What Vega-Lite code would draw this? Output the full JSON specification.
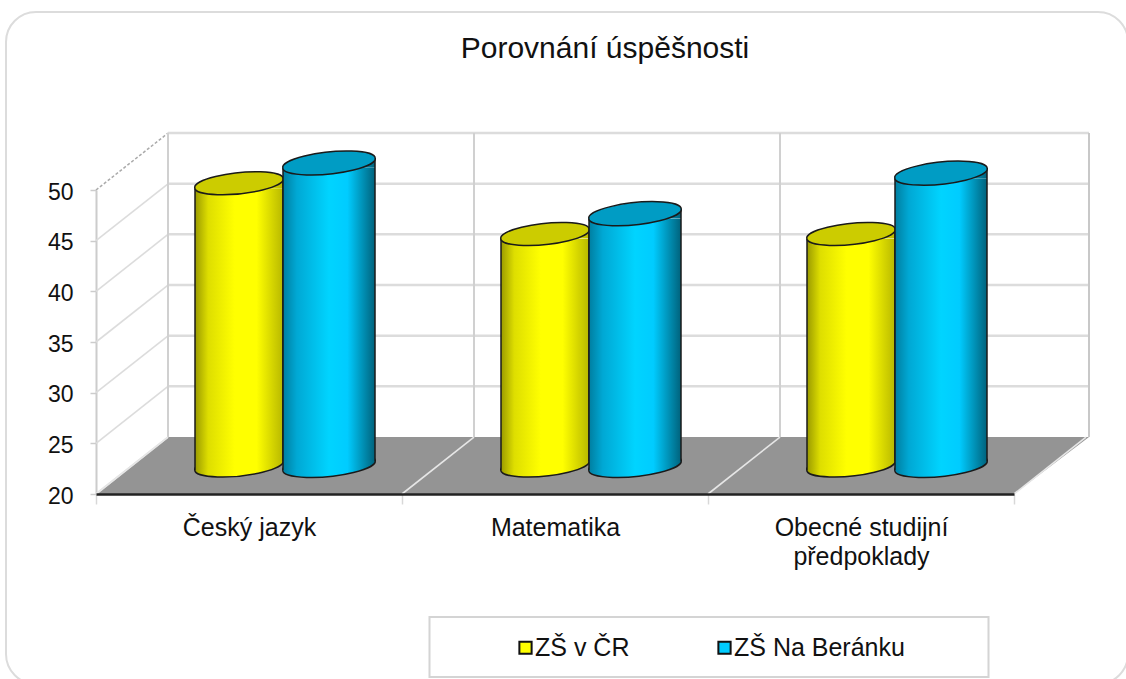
{
"$schema":"https://vega.github.io/schema/vega-lite/v6.json",
"autosize":{"type":"none"},
"width":918,"height":304,
"padding":{"left":96,"top":190,"right":112,"bottom":185},
"background":"#ffffff",
"title":{"text":"Porovnání úspěšnosti","fontSize":30,"font":"Liberation Sans","fontWeight":"normal","anchor":"middle","dx":50,"offset":-56,"color":"#111111"},
"config":{"view":{"stroke":null},"font":"Liberation Sans"},
"datasets":{
"scores":[
{"subject":"Český jazyk","school":"ZŠ v ČR","score":48},
{"subject":"Český jazyk","school":"ZŠ Na Beránku","score":50},
{"subject":"Matematika","school":"ZŠ v ČR","score":43},
{"subject":"Matematika","school":"ZŠ Na Beránku","score":45},
{"subject":"Obecné studijní předpoklady","school":"ZŠ v ČR","score":43},
{"subject":"Obecné studijní předpoklady","school":"ZŠ Na Beránku","score":49}
],
"ticks":[{"value":20},{"value":25},{"value":30},{"value":35},{"value":40},{"value":45},{"value":50}],
"subjects":[{"subject":"Český jazyk"},{"subject":"Matematika"},{"subject":"Obecné studijní předpoklady"}]
},
"layer":[
{"data":{"values":[{"subject":"Matematika","value":35}]},
 "mark":{"type":"point","filled":false,"opacity":1,"stroke":"#dcdcdc","strokeWidth":2,"xOffset":12,"yOffset":6,"size":1258884,"shape":"M -0.9465 -0.599 L 0.9465 -0.599 A 0.0535 0.0535 0 0 1 1 -0.5455 L 1 0.5455 A 0.0535 0.0535 0 0 1 0.9465 0.599 L -0.9465 0.599 A 0.0535 0.0535 0 0 1 -1 0.5455 L -1 -0.5455 A 0.0535 0.0535 0 0 1 -0.9465 -0.599 Z"},
 "encoding":{"x":{"field":"subject","type":"nominal","title":null},"y":{"field":"value","type":"quantitative","title":null}}},
{"data":{"values":[{"subject":"Matematika","value":20}]},
 "mark":{"type":"point","filled":false,"opacity":1,"stroke":"#d4d4d4","strokeWidth":2,"xOffset":154,"yOffset":153,"size":312481,"shape":"M -1 -0.107 L 1 -0.107 L 1 0.107 L -1 0.107 Z"},
 "encoding":{"x":{"field":"subject","type":"nominal","title":null},"y":{"field":"value","type":"quantitative","title":null}}},
{"data":{"name":"ticks"},"transform":[{"filter":"datum.value > 20"}],
 "mark":{"type":"point","filled":false,"opacity":1,"stroke":"#dcdcdc","strokeWidth":2.5,"xOffset":72,"yOffset":-57,"size":3392964,"shape":"M 0 0 L 1 0"},
 "encoding":{"x":{"datum":"Český jazyk","bandPosition":0},"y":{"field":"value","type":"quantitative","title":null}}},
{"data":{"values":[{"subject":"Matematika","value":20}]},
 "mark":{"type":"point","filled":true,"opacity":1,"fill":"#949494","stroke":null,"xOffset":37.5,"yOffset":-28.5,"size":986049,"shape":"M -1 0.0574 L 0.849 0.0574 L 1 -0.0574 L -0.855 -0.0574 Z"},
 "encoding":{"x":{"field":"subject","type":"nominal","title":null},"y":{"field":"value","type":"quantitative","title":null}}},
{"data":{"name":"ticks"},"transform":[{"filter":"datum.value < 50"}],
 "mark":{"type":"point","filled":false,"opacity":1,"stroke":"#dcdcdc","strokeWidth":1.6,"size":20736,"shape":"M 0 0 L 1 -0.79"},
 "encoding":{"x":{"datum":"Český jazyk","bandPosition":0},"y":{"field":"value","type":"quantitative","title":null}}},
{"data":{"name":"ticks"},"transform":[{"filter":"datum.value == 50"}],
 "mark":{"type":"point","filled":false,"opacity":1,"stroke":"#aaaaaa","strokeWidth":1.5,"strokeDash":[3,2],"size":20736,"shape":"M 0 0 L 1 -0.79"},
 "encoding":{"x":{"datum":"Český jazyk","bandPosition":0},"y":{"field":"value","type":"quantitative","title":null}}},
{"data":{"name":"subjects"},
 "mark":{"type":"rule","stroke":"#d0d0d0","strokeWidth":2,"xOffset":72,"yOffset":-57,"y2Offset":-57},
 "encoding":{"x":{"field":"subject","type":"nominal","bandPosition":0,"title":null},"y":{"datum":20},"y2":{"datum":50}}},
{"data":{"values":[{"subject":"Obecné studijní předpoklady"}]},
 "mark":{"type":"rule","stroke":"#c8c8c8","strokeWidth":2,"xOffset":75,"yOffset":-57,"y2Offset":-57},
 "encoding":{"x":{"field":"subject","type":"nominal","bandPosition":1,"title":null},"y":{"datum":20},"y2":{"datum":50}}},
{"data":{"name":"subjects"},
 "mark":{"type":"point","filled":false,"opacity":1,"stroke":"#e6e6e6","strokeWidth":1.6,"size":20736,"shape":"M 0 0 L 1 -0.79"},
 "encoding":{"x":{"field":"subject","type":"nominal","bandPosition":0,"title":null},"y":{"datum":20}}},
{"data":{"values":[{"subject":"Obecné studijní předpoklady"}]},
 "mark":{"type":"point","filled":false,"opacity":1,"stroke":"#e6e6e6","strokeWidth":1.6,"size":20736,"shape":"M 0 0 L 1 -0.79"},
 "encoding":{"x":{"field":"subject","type":"nominal","bandPosition":1,"title":null},"y":{"datum":20}}},
{"data":{"name":"scores"},
 "encoding":{
  "x":{"field":"subject","type":"nominal","title":null,"sort":null,
   "scale":{"type":"band","domain":["Český jazyk","Matematika","Obecné studijní předpoklady"],"paddingInner":0,"paddingOuter":0},
   "axis":{"title":null,"zindex":1,"labelAngle":0,"labelAlign":"center","labelFont":"Liberation Sans","labelFontSize":25,"labelColor":"#111111","labelPadding":11,"labelLineHeight":29,"labelLimit":0,"labelBaseline":"top","domainColor":"#222222","domainWidth":2.5,"tickColor":"#d8d8d8","tickWidth":1.5,"tickSize":10,"tickBand":"extent","grid":false,
    "labelExpr":"datum.value == 'Obecné studijní předpoklady' ? ['Obecné studijní','předpoklady'] : datum.label"}},
  "y":{"field":"score","type":"quantitative","title":null,
   "scale":{"domain":[20,50],"nice":false,"zero":false},
   "axis":{"title":null,"values":[20,25,30,35,40,45,50],"labelFont":"Liberation Sans","labelFontSize":23,"labelColor":"#111111","labelPadding":17,"labelOffset":2,"domainColor":"#cccccc","domainWidth":2,"tickColor":"#cccccc","tickWidth":1.5,"tickSize":6,"grid":false}}
 },
 "layer":[
  {"mark":{"type":"bar","width":1},
   "encoding":{"y":{"datum":20},"y2":{"datum":20},
    "color":{"field":"school","type":"nominal","sort":null,"scale":{"domain":["ZŠ v ČR","ZŠ Na Beránku"],"range":["#ffff00","#00ccff"]},
     "legend":{"title":null,"orient":"none","legendX":417,"legendY":445,"direction":"horizontal","symbolType":"square","symbolSize":150,"symbolStrokeColor":"#111111","symbolStrokeWidth":2,"labelFont":"Liberation Sans","labelFontSize":25,"labelColor":"#111111","labelOffset":-3,"labelLimit":400,"columnPadding":82,"padding":0}}}},
  {"transform":[{"filter":"datum.school == 'ZŠ v ČR'"}],
   "layer":[
    {"mark":{"type":"point","filled":true,"opacity":1,"xOffset":-10,"yOffset":-28.5,"size":7744,"strokeWidth":1.5,"stroke":"#1a1a1a",
      "fill":{"x1":0,"y1":0,"x2":1,"y2":0,"gradient":"linear","stops":[{"offset":0,"color":"#9a9a00"},{"offset":0.15,"color":"#dede00"},{"offset":0.45,"color":"#ffff00"},{"offset":0.7,"color":"#ffff00"},{"offset":1,"color":"#b8b800"}]},
      "shape":"M -1.004 0.1056 A 1.01 0.233 -6 1 1 1.004 -0.1056 A 1.01 0.233 -6 1 1 -1.004 0.1056 Z"},
     "encoding":{"y":{"datum":20}}},
    {"mark":{"type":"bar","width":88,"xOffset":-10,"yOffset":-22,"y2Offset":-33,
      "fill":{"x1":0,"y1":0,"x2":1,"y2":0,"gradient":"linear","stops":[{"offset":0,"color":"#9a9a00"},{"offset":0.15,"color":"#dede00"},{"offset":0.45,"color":"#ffff00"},{"offset":0.7,"color":"#ffff00"},{"offset":1,"color":"#b8b800"}]}},
     "encoding":{"y2":{"datum":20}}},
    {"mark":{"type":"point","filled":true,"opacity":1,"stroke":null,"xOffset":-10,"yOffset":-28.5,"size":7744,
      "fill":{"x1":0,"y1":0,"x2":1,"y2":0,"gradient":"linear","stops":[{"offset":0,"color":"#9a9a00"},{"offset":0.15,"color":"#dede00"},{"offset":0.45,"color":"#ffff00"},{"offset":0.7,"color":"#ffff00"},{"offset":1,"color":"#b8b800"}]},
      "shape":"M -1 -0.105 L -1 0.105 L 1 -0.105 Z"},
     "encoding":{"y":{"datum":20}}},
    {"mark":{"type":"point","filled":true,"opacity":1,"stroke":null,"xOffset":-10,"yOffset":-27,"size":7744,
      "fill":{"x1":0,"y1":0,"x2":1,"y2":0,"gradient":"linear","stops":[{"offset":0,"color":"#9a9a00"},{"offset":0.15,"color":"#dede00"},{"offset":0.45,"color":"#ffff00"},{"offset":0.7,"color":"#ffff00"},{"offset":1,"color":"#b8b800"}]},
      "shape":"M -1 0.105 L 1 -0.105 L 1 0.105 Z"}},
    {"mark":{"type":"rule","stroke":"#1a1a1a","strokeWidth":1.5,"xOffset":-54,"yOffset":-22,"y2Offset":-24},"encoding":{"y2":{"datum":20}}},
    {"mark":{"type":"rule","stroke":"#1a1a1a","strokeWidth":1.5,"xOffset":34,"yOffset":-32,"y2Offset":-33},"encoding":{"y2":{"datum":20}}},
    {"mark":{"type":"point","filled":true,"opacity":1,"fill":"#cccc00","stroke":"#1a1a1a","strokeWidth":1.5,"xOffset":-10,"yOffset":-27,"size":7744,
      "shape":"M -1.004 0.1056 A 1.01 0.233 -6 1 1 1.004 -0.1056 A 1.01 0.233 -6 1 1 -1.004 0.1056 Z"}}
   ]},
  {"transform":[{"filter":"datum.school == 'ZŠ Na Beránku'"}],
   "layer":[
    {"mark":{"type":"point","filled":true,"opacity":1,"xOffset":80,"yOffset":-28.5,"size":8464,"strokeWidth":1.5,"stroke":"#1a1a1a",
      "fill":{"x1":0,"y1":0,"x2":1,"y2":0,"gradient":"linear","stops":[{"offset":0,"color":"#007ea0"},{"offset":0.15,"color":"#00a8d4"},{"offset":0.5,"color":"#00d4ff"},{"offset":0.7,"color":"#00ccff"},{"offset":1,"color":"#00627c"}]},
      "shape":"M -1.004 0.1056 A 1.01 0.233 -6 1 1 1.004 -0.1056 A 1.01 0.233 -6 1 1 -1.004 0.1056 Z"},
     "encoding":{"y":{"datum":20}}},
    {"mark":{"type":"bar","width":92,"xOffset":80,"yOffset":-22,"y2Offset":-33,
      "fill":{"x1":0,"y1":0,"x2":1,"y2":0,"gradient":"linear","stops":[{"offset":0,"color":"#007ea0"},{"offset":0.15,"color":"#00a8d4"},{"offset":0.5,"color":"#00d4ff"},{"offset":0.7,"color":"#00ccff"},{"offset":1,"color":"#00627c"}]}},
     "encoding":{"y2":{"datum":20}}},
    {"mark":{"type":"point","filled":true,"opacity":1,"stroke":null,"xOffset":80,"yOffset":-28.5,"size":8464,
      "fill":{"x1":0,"y1":0,"x2":1,"y2":0,"gradient":"linear","stops":[{"offset":0,"color":"#007ea0"},{"offset":0.15,"color":"#00a8d4"},{"offset":0.5,"color":"#00d4ff"},{"offset":0.7,"color":"#00ccff"},{"offset":1,"color":"#00627c"}]},
      "shape":"M -1 -0.105 L -1 0.105 L 1 -0.105 Z"},
     "encoding":{"y":{"datum":20}}},
    {"mark":{"type":"point","filled":true,"opacity":1,"stroke":null,"xOffset":80,"yOffset":-27,"size":8464,
      "fill":{"x1":0,"y1":0,"x2":1,"y2":0,"gradient":"linear","stops":[{"offset":0,"color":"#007ea0"},{"offset":0.15,"color":"#00a8d4"},{"offset":0.5,"color":"#00d4ff"},{"offset":0.7,"color":"#00ccff"},{"offset":1,"color":"#00627c"}]},
      "shape":"M -1 0.105 L 1 -0.105 L 1 0.105 Z"}},
    {"mark":{"type":"rule","stroke":"#1a1a1a","strokeWidth":1.5,"xOffset":34,"yOffset":-22,"y2Offset":-24},"encoding":{"y2":{"datum":20}}},
    {"mark":{"type":"rule","stroke":"#1a1a1a","strokeWidth":1.5,"xOffset":126,"yOffset":-32,"y2Offset":-33},"encoding":{"y2":{"datum":20}}},
    {"mark":{"type":"point","filled":true,"opacity":1,"fill":"#009cc4","stroke":"#1a1a1a","strokeWidth":1.5,"xOffset":80,"yOffset":-27,"size":8464,
      "shape":"M -1.004 0.1056 A 1.01 0.233 -6 1 1 1.004 -0.1056 A 1.01 0.233 -6 1 1 -1.004 0.1056 Z"}}
   ]}
 ]}
]
}
